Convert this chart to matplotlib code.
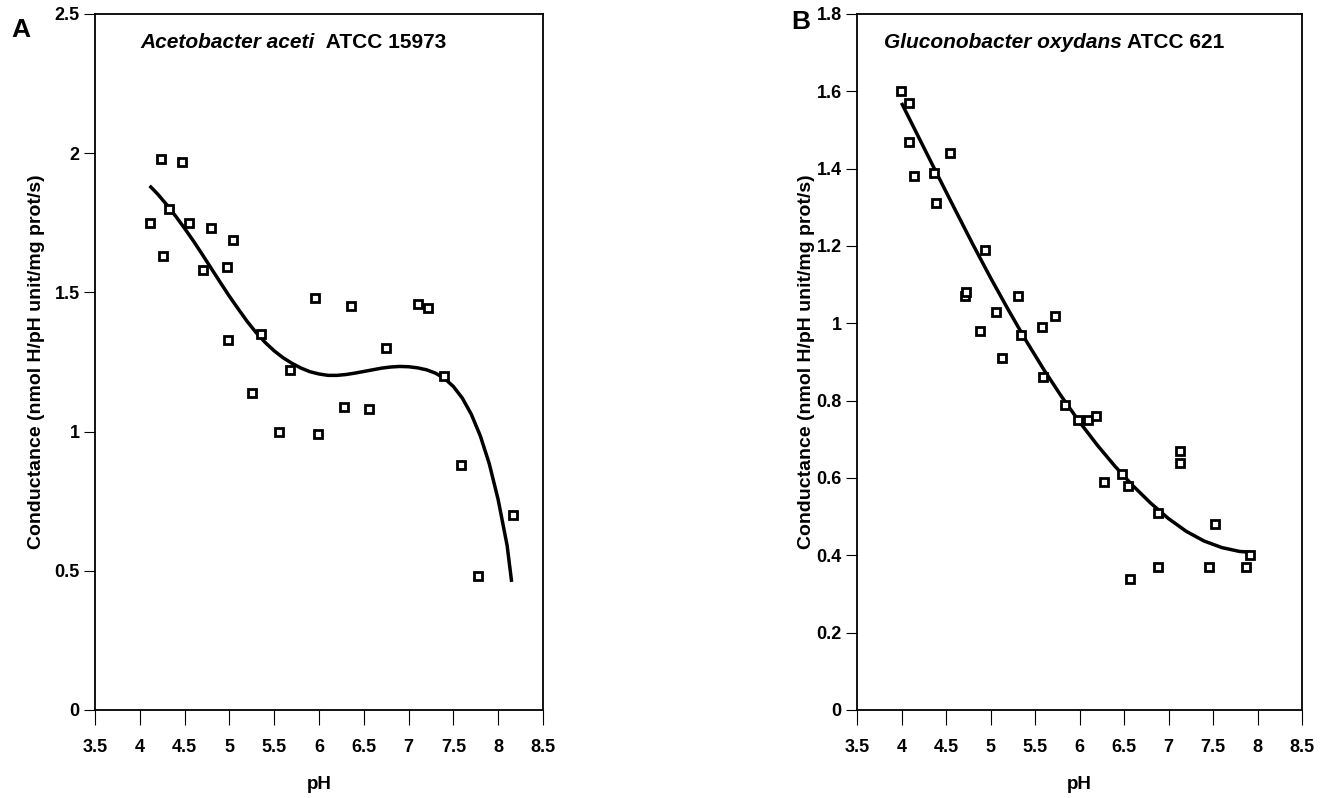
import matplotlib
matplotlib.use('Agg')
import matplotlib.pyplot as plt
import numpy as np

plt.rcParams['font.family'] = ['Liberation Sans', 'DejaVu Sans']
plt.rcParams['font.weight'] = 'bold'

# Panel A: Acetobacter aceti ATCC 15973
ph_a = [4.11, 4.24, 4.26, 4.33, 4.47, 4.55, 4.71, 4.79, 4.97, 4.98, 5.04, 5.25, 5.35, 5.55,
        5.68, 5.96, 5.99, 6.28, 6.36, 6.56, 6.75, 7.11, 7.22, 7.40, 7.58, 7.78, 8.16]
cond_a = [1.75, 1.98, 1.63, 1.80, 1.97, 1.75, 1.58, 1.73, 1.59, 1.33, 1.69, 1.14, 1.35, 1.00,
          1.22, 1.48, 0.99, 1.09, 1.45, 1.08, 1.30, 1.46, 1.445, 1.20, 0.88, 0.48, 0.70]

# Ausgleichskurve A
fit_ph_a = [4.11, 4.20, 4.30, 4.40, 4.50, 4.60, 4.70, 4.80, 4.90, 5.00, 5.10, 5.20, 5.30,
            5.40, 5.50, 5.60, 5.70, 5.80, 5.90, 6.00, 6.10, 6.20, 6.30, 6.40, 6.50, 6.60,
            6.70, 6.80, 6.90, 7.00, 7.10, 7.20, 7.30, 7.40, 7.50, 7.60, 7.70, 7.80, 7.90,
            8.00, 8.10, 8.15]
fit_a = [1.883, 1.853, 1.815, 1.774, 1.730, 1.684, 1.635, 1.585, 1.535, 1.486, 1.440, 1.395,
         1.355, 1.320, 1.290, 1.265, 1.245, 1.228, 1.215, 1.207, 1.202, 1.202, 1.205, 1.210,
         1.216, 1.222, 1.228, 1.232, 1.234, 1.233, 1.229, 1.222, 1.210, 1.191, 1.162, 1.120,
         1.062, 0.985, 0.885, 0.755, 0.590, 0.460]

# Panel B: Gluconobacter oxydans ATCC 621
ph_b = [3.99, 4.08, 4.08, 4.14, 4.37, 4.39, 4.54, 4.71, 4.72, 4.88, 4.94, 5.06, 5.13, 5.31,
        5.34, 5.58, 5.59, 5.72, 5.84, 5.98, 6.10, 6.19, 6.28, 6.48, 6.54, 6.57, 6.88, 6.88,
        7.13, 7.13, 7.46, 7.52, 7.87, 7.92]
cond_b = [1.60, 1.57, 1.47, 1.38, 1.39, 1.31, 1.44, 1.07, 1.08, 0.98, 1.19, 1.03, 0.91, 1.07,
          0.97, 0.99, 0.86, 1.02, 0.79, 0.75, 0.75, 0.76, 0.59, 0.61, 0.58, 0.34, 0.51, 0.37,
          0.67, 0.64, 0.37, 0.48, 0.37, 0.40]

# Ausgleichskurve B
fit_ph_b = [4.00, 4.20, 4.40, 4.60, 4.80, 5.00, 5.20, 5.40, 5.60, 5.80, 6.00, 6.20, 6.40,
            6.60, 6.80, 7.00, 7.20, 7.40, 7.60, 7.80, 7.93]
fit_b = [1.57, 1.478, 1.386, 1.295, 1.205, 1.118, 1.035, 0.955, 0.88, 0.81, 0.745, 0.685,
         0.63, 0.58, 0.535, 0.495, 0.462, 0.437, 0.42, 0.41, 0.408]

x_ticks = [3.5, 4, 4.5, 5, 5.5, 6, 6.5, 7, 7.5, 8, 8.5]
x_ticklabels = ['3.5', '4', '4.5', '5', '5.5', '6', '6.5', '7', '7.5', '8', '8.5']
y_ticks_a = [0, 0.5, 1, 1.5, 2, 2.5]
y_ticklabels_a = ['0', '0.5', '1', '1.5', '2', '2.5']
y_ticks_b = [0, 0.2, 0.4, 0.6, 0.8, 1.0, 1.2, 1.4, 1.6, 1.8]
y_ticklabels_b = ['0', '0.2', '0.4', '0.6', '0.8', '1', '1.2', '1.4', '1.6', '1.8']

W, H = 1327, 798
fig = plt.figure(figsize=(W / 100, H / 100), dpi=100)

axA = fig.add_axes([95 / W, 1 - 710 / H, (543 - 95) / W, (710 - 14) / H])
axB = fig.add_axes([857 / W, 1 - 710 / H, (1302 - 857) / W, (710 - 14) / H])

ylab = 'Conductance (nmol H/pH unit/mg prot/s)'

for ax, xs, ys, fx, fy, yt, ytl, ymax, lp in [
        (axA, ph_a, cond_a, fit_ph_a, fit_a, y_ticks_a, y_ticklabels_a, 2.5, 7),
        (axB, ph_b, cond_b, fit_ph_b, fit_b, y_ticks_b, y_ticklabels_b, 1.8, 1)]:
    ax.plot(fx, fy, '-', color='black', linewidth=2.5, solid_capstyle='butt', zorder=2)
    ax.plot(xs, ys, 's', markersize=5.5, markerfacecolor='white', markeredgecolor='black',
            markeredgewidth=2.0, linestyle='none', zorder=3)
    ax.set_xlim(3.5, 8.5)
    ax.set_ylim(0, ymax)
    ax.set_xticks(x_ticks)
    ax.set_xticklabels(x_ticklabels)
    ax.set_yticks(yt)
    ax.set_yticklabels(ytl)
    ax.tick_params(axis='x', direction='out', length=11, width=0.8, pad=10, labelsize=13)
    ax.tick_params(axis='y', direction='out', length=8, width=0.8, pad=3, labelsize=13)
    for lab in ax.get_xticklabels() + ax.get_yticklabels():
        lab.set_fontweight('bold')
    for sp in ax.spines.values():
        sp.set_linewidth(1.3)
    ax.set_xlabel('pH', fontsize=13.5, fontweight='bold', labelpad=14)
    ax.set_ylabel(ylab, fontsize=14, fontweight='bold', labelpad=lp)

# Titel in den Panels
fig.text(315 / W, 1 - 42 / H, 'Acetobacter aceti', fontsize=15, fontweight='bold',
         fontstyle='italic', ha='right', va='center')
fig.text(315 / W, 1 - 42 / H, '  ATCC 15973', fontsize=15, fontweight='bold',
         ha='left', va='center')
fig.text(1122 / W, 1 - 42 / H, 'Gluconobacter oxydans', fontsize=15, fontweight='bold',
         fontstyle='italic', ha='right', va='center')
fig.text(1122 / W, 1 - 42 / H, ' ATCC 621', fontsize=15, fontweight='bold',
         ha='left', va='center')

# Panelbuchstaben
fig.text(21 / W, 1 - 30 / H, 'A', fontsize=19, fontweight='bold', ha='center', va='center')
fig.text(801 / W, 1 - 22 / H, 'B', fontsize=19, fontweight='bold', ha='center', va='center')

plt.savefig('out.png', dpi=100)
